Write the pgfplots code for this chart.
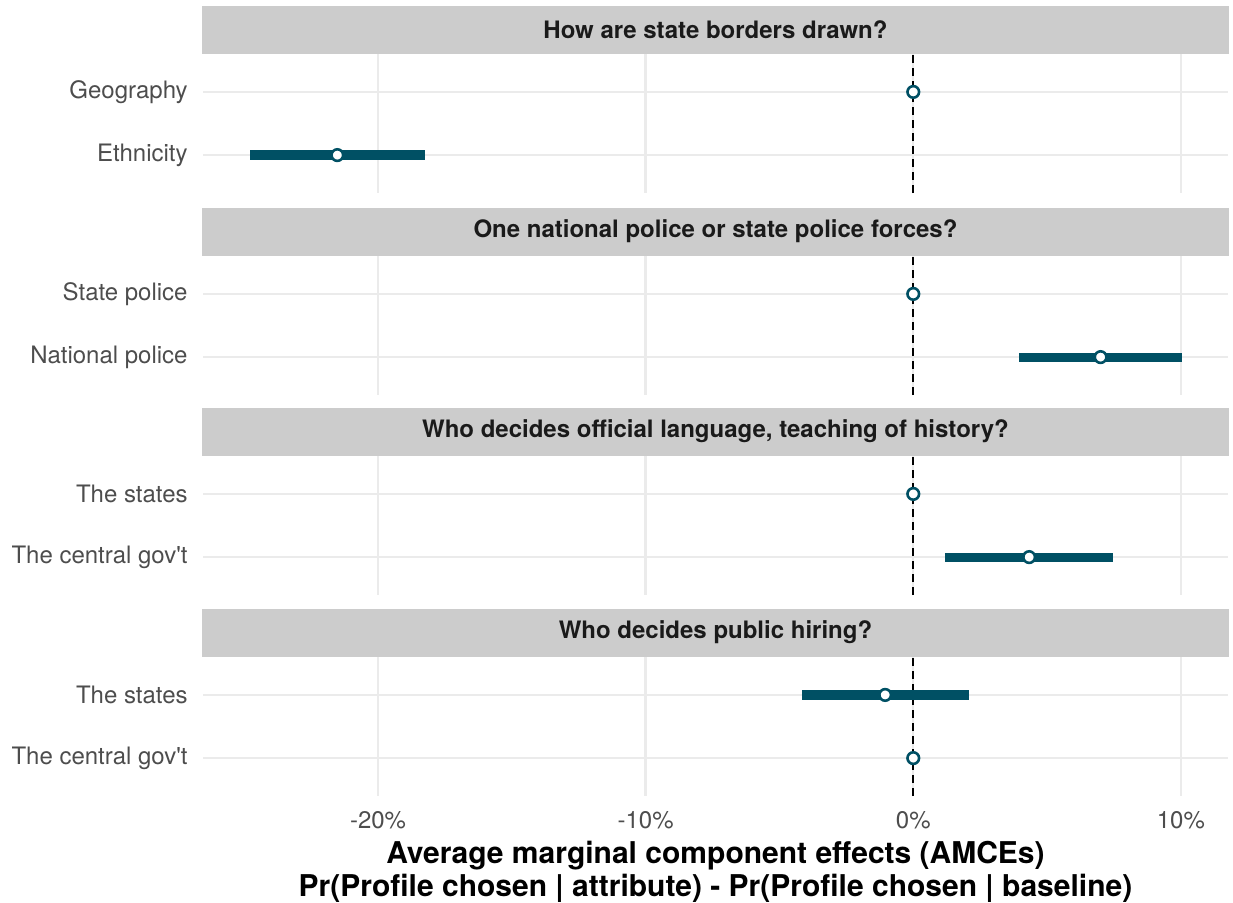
\documentclass[border=0pt]{standalone}
\usepackage{pgfplots}
\pgfplotsset{compat=1.18}
\usepackage{fontspec}
\setmainfont{TeX Gyre Heros}
\definecolor{barcol}{RGB}{0,80,100}
\definecolor{gridcol}{RGB}{235,235,235}
\definecolor{stripcol}{RGB}{204,204,204}
\definecolor{ticktext}{RGB}{77,77,77}
\definecolor{striptext}{RGB}{26,26,26}
\pgfplotsset{
  facet/.style={
    scale only axis, width=512.5pt, height=69.5pt,
    xmin=-26.54, xmax=11.76, ymin=-0.6, ymax=1.6,
    axis line style={draw=none},
    major tick length=0pt,
    xtick={-20,-10,0,10}, ytick={0,1},
    xticklabels={},
    grid=major,
    major grid style={gridcol, line width=1.2pt},
    yticklabel style={font=\fontsize{12}{14}\selectfont, text=ticktext, anchor=east, inner sep=0pt, xshift=-7.5pt},
    xticklabel style={font=\fontsize{12}{14}\selectfont, text=ticktext, anchor=north, inner sep=0pt, yshift=-7.5pt},
    every axis title shift=0pt,
    title style={at={(0.5,1)}, anchor=south, fill=stripcol, text=striptext,
      minimum width=513pt, minimum height=24pt, inner sep=0pt, yshift=0pt,
      font=\fontsize{12}{14}\selectfont\bfseries},
    clip=false,
    anchor=north west,
  },
  zeroline/.style={black, line width=1.1pt, dash pattern=on 4pt off 2.5pt},
  ci/.style={barcol, line width=4.6pt, line cap=butt},
  est/.style={only marks, mark=*, mark size=2.9pt, mark options={fill=white, draw=barcol, line width=1.3pt}},
}
\begin{document}
\begin{tikzpicture}
\path[use as bounding box] (-101.5pt,27pt) rectangle (515pt,-424pt);
% Panel 1
\begin{axis}[facet, at={(0pt,0pt)}, title={How are state borders drawn?},
  yticklabels={Ethnicity,Geography}]
\addplot[zeroline] coordinates {(0,-0.6) (0,1.6)};
\addplot[ci] coordinates {(-24.78,0) (-18.24,0)};
\addplot[est] coordinates {(-21.52,0) (0,1)};
\end{axis}
% Panel 2
\begin{axis}[facet, at={(0pt,-101pt)}, title={One national police or state police forces?},
  yticklabels={National police,State police}]
\addplot[zeroline] coordinates {(0,-0.6) (0,1.6)};
\addplot[ci] coordinates {(3.96,0) (10.05,0)};
\addplot[est] coordinates {(7.0,0) (0,1)};
\end{axis}
% Panel 3
\begin{axis}[facet, at={(0pt,-201pt)}, title={Who decides official language, teaching of history?},
  yticklabels={The central gov\textquotesingle t,The states}]
\addplot[zeroline] coordinates {(0,-0.6) (0,1.6)};
\addplot[ci] coordinates {(1.18,0) (7.46,0)};
\addplot[est] coordinates {(4.33,0) (0,1)};
\end{axis}
% Panel 4
\begin{axis}[facet, at={(0pt,-301.5pt)}, title={Who decides public hiring?},
  yticklabels={The central gov\textquotesingle t,The states},
  xticklabels={-20\%,-10\%,0\%,10\%},
  xlabel={Average marginal component effects (AMCEs)\\Pr(Profile chosen \textbar{} attribute) - Pr(Profile chosen \textbar{} baseline)},
  xlabel style={font=\fontsize{15}{16.5}\selectfont\bfseries, align=center, inner sep=0pt, yshift=-6pt}]
\addplot[zeroline] coordinates {(0,-0.6) (0,1.6)};
\addplot[ci] coordinates {(-4.15,1) (2.07,1)};
\addplot[est] coordinates {(-1.05,1) (0,0)};
\end{axis}
\end{tikzpicture}
\end{document}
